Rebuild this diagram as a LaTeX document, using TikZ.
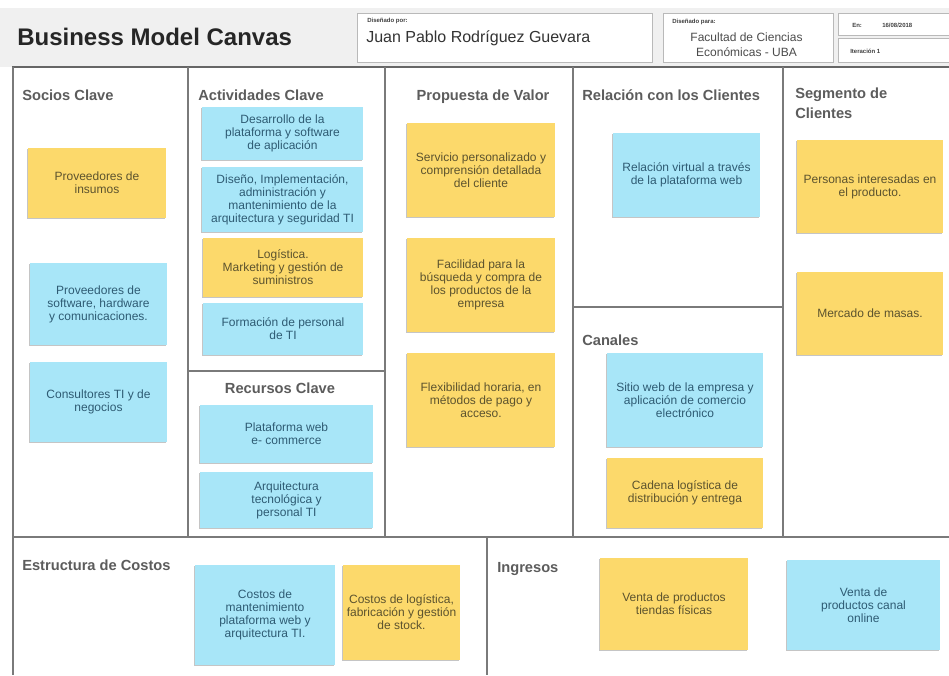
\documentclass[tikz,border=0pt]{standalone}
\usepackage{fontspec}
\setmainfont{Liberation Sans}
\usepackage{tikz}
\usetikzlibrary{positioning, calc, shadows}

\definecolor{notey}{HTML}{FCD96B}
\definecolor{noteb}{HTML}{A8E6F8}
\definecolor{texty}{HTML}{5C532E}
\definecolor{textb}{HTML}{2E5B73}
\definecolor{headgray}{HTML}{F0F0F0}
\definecolor{linegray}{HTML}{7A7A7A}
\definecolor{titlegray}{HTML}{5C5C5C}

\begin{document}
\begin{tikzpicture}[x=0.75pt, y=-0.75pt,
  wh/.style 2 args={minimum width=#1*0.75pt, minimum height=#2*0.75pt},
  ynote/.style={rectangle, fill=notey, text=texty, align=center, inner sep=2pt,
    font=\fontsize{9}{9.8}\selectfont,
    drop shadow={shadow xshift=-0.6pt, shadow yshift=-0.9pt, opacity=0.45}},
  bnote/.style={ynote, fill=noteb, text=textb},
  sectitle/.style={font=\fontsize{11}{15}\selectfont\bfseries, text=titlegray, inner sep=0pt},
  headbox/.style={draw=gray!55, fill=white, line width=0.6pt, anchor=north west},
  tinylbl/.style={font=\fontsize{4.5}{5}\selectfont\bfseries, text=black!75, inner sep=0pt, anchor=west},
  divider/.style={draw=linegray, line width=1pt}
]
\useasboundingbox (0,0) rectangle (949,675);
\fill[white] (0,0) rectangle (949,675);

\fill[headgray] (0,8) rectangle (949,67);
\node[anchor=base west, inner sep=0pt, text=black!85, font=\fontsize{18}{20}\selectfont\bfseries] (title) at (17,45) {Business Model Canvas};

\node[headbox, wh={295}{49}] (byBox) at (357,13) {};
\node[tinylbl] (byLbl) at (367,21) {Diseñado por:};
\node[anchor=west, inner sep=0pt, text=black!80, font=\fontsize{12}{14}\selectfont] (byName) at (366,38) {Juan Pablo Rodríguez Guevara};

\node[headbox, wh={170}{49}] (forBox) at (663,13) {};
\node[tinylbl] (forLbl) at (672,22) {Diseñado para:};
\node[align=center, inner sep=0pt, text=black!70, font=\fontsize{9}{11}\selectfont] (forName) at (746.5,45) {Facultad de Ciencias\\Económicas - UBA};

\node[headbox, wh={125}{22}] (dateBox) at (838,13) {};
\node[tinylbl] (dateLbl) at (852,25) {En:};
\node[tinylbl] (dateVal) at (882,25) {16/08/2018};
\node[headbox, wh={125}{24}] (iterBox) at (838,38) {};
\node[tinylbl] (iterLbl) at (850,51) {Iteración 1};

\draw[black!60, line width=1.8pt] (12,67) -- (949,67);
\draw[divider, line width=1.3pt] (13,67) -- (13,675);
\draw[divider] (188,67) -- (188,537);
\draw[divider] (385,67) -- (385,537);
\draw[divider] (573,67) -- (573,537);
\draw[divider] (783,67) -- (783,537);
\draw[divider] (188,371) -- (385,371);
\draw[divider] (573,307) -- (783,307);
\draw[divider] (13,537) -- (949,537);
\draw[divider] (487,537) -- (487,675);

\node[sectitle, anchor=base west] (socT) at (22,100) {Socios Clave};
\node[sectitle, anchor=base west] (actT) at (198,100) {Actividades Clave};
\node[sectitle, anchor=base] (propT) at (483,100) {Propuesta de Valor};
\node[sectitle, anchor=base west] (relT) at (582,100) {Relación con los Clientes};
\node[sectitle, anchor=north west, align=left] (segT) at (795,88) {Segmento de\\Clientes};
\node[sectitle, anchor=base] (recT) at (280,393) {Recursos Clave};
\node[sectitle, anchor=base west] (canT) at (582,345) {Canales};
\node[sectitle, anchor=base west] (cosT) at (22,570) {Estructura de Costos};
\node[sectitle, anchor=base west] (ingT) at (497,572) {Ingresos};

\node[ynote, wh={138}{70}] (soc1) at (97,183) {Proveedores de\\insumos};
\node[bnote, wh={137}{82}] (soc2) at (98.5,304) {Proveedores de\\software, hardware\\y comunicaciones.};
\node[bnote, wh={137}{80}] (soc3) at (98.5,402) {Consultores TI y de\\negocios};

\node[bnote, wh={161}{53}] (act1) at (282.5,133.5) {Desarrollo de la\\plataforma y software\\de aplicación};
\node[bnote, wh={161}{65}] (act2) at (282.5,199.5) {Diseño, Implementación,\\administración y\\mantenimiento de la\\arquitectura y seguridad TI};
\node[ynote, wh={160}{59}] (act3) at (283,267.5) {Logística.\\Marketing y gestión de\\suministros};
\node[bnote, wh={160}{52}] (act4) at (283,329) {Formación de personal\\de TI};

\node[bnote, wh={173}{58}] (rec1) at (286.5,434) {Plataforma web\\e- commerce};
\node[bnote, wh={173}{56}] (rec2) at (286.5,500) {Arquitectura\\tecnológica y\\personal TI};

\node[ynote, wh={148}{94}] (prop1) at (481,170) {Servicio personalizado y\\comprensión detallada\\del cliente};
\node[ynote, wh={148}{94}] (prop2) at (481,285) {Facilidad para la\\búsqueda y compra de\\los productos de la\\empresa};
\node[ynote, wh={148}{94}] (prop3) at (481,400) {Flexibilidad horaria, en\\métodos de pago y\\acceso.};

\node[bnote, wh={147}{84}] (rel1) at (686.5,175) {Relación virtual a través\\de la plataforma web};
\node[bnote, wh={156}{94}] (can1) at (685,400) {Sitio web de la empresa y\\aplicación de comercio\\electrónico};
\node[ynote, wh={156}{70}] (can2) at (685,493) {Cadena logística de\\distribución y entrega};

\node[ynote, wh={146}{93}] (seg1) at (870,186.5) {Personas interesadas en\\el producto.};
\node[ynote, wh={146}{83}] (seg2) at (870,313.5) {Mercado de masas.};

\node[bnote, wh={140}{100}] (cos1) at (265,615) {Costos de\\mantenimiento\\plataforma web y\\arquitectura TI.};
\node[ynote, wh={117}{95}] (cos2) at (401.5,612.5) {Costos de logística,\\fabricación y gestión\\de stock.};

\node[ynote, wh={148}{92}] (ing1) at (674,604) {Venta de productos\\tiendas físicas};
\node[bnote, wh={153}{90}] (ing2) at (863.5,605) {Venta de\\productos canal\\online};
\end{tikzpicture}
\end{document}
